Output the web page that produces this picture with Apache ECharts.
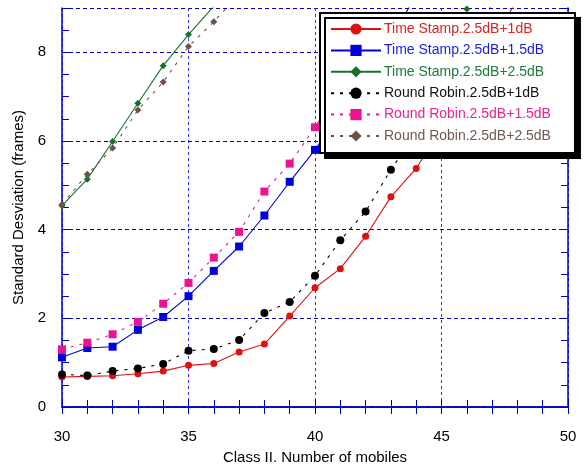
<!DOCTYPE html>
<html>
<head>
<meta charset="utf-8">
<script src="https://cdn.jsdelivr.net/npm/echarts@6/dist/echarts.min.js"></script>
<style>html,body{margin:0;padding:0;background:#fff}#c{width:588px;height:470px}</style>
</head>
<body>
<div id="c"></div>
<script>
const xValues = [30,31,32,33,34,35,36,37,38,39,40,41,42,43,44,45,46,47,48];
const tsOneDb   = [0.675,0.69,0.706,0.75,0.81,0.94,0.98,1.24,1.42,2.05,2.69,3.12,3.85,4.74,5.38,6.3,7.2,8.2,9.2];
const tsOneHalfDb = [1.12,1.33,1.36,1.74,2.03,2.50,3.07,3.62,4.32,5.08,5.80,6.6,7.4,8.3,9.3,null,null,null,null];
const tsTwoHalfDb = [4.54,5.14,5.99,6.85,7.70,8.40,9.04,null,null,null,null,null,null,null,null,null,8.98,null,null];
const rrOneDb   = [0.735,0.71,0.81,0.87,0.97,1.27,1.31,1.51,2.12,2.37,2.96,3.76,4.41,5.35,6.2,7.1,8.0,9.1,null];
const rrOneHalfDb = [1.30,1.45,1.64,1.92,2.33,2.80,3.37,3.95,4.86,5.49,6.31,7.2,8.2,9.2,null,null,null,null,null];
const rrTwoHalfDb = [4.57,5.25,5.84,6.70,7.33,8.13,8.69,9.3,null,null,null,null,null,null,null,null,null,null,null];
const seriesNames = ['Time Stamp.2.5dB+1dB','Time Stamp.2.5dB+1.5dB','Time Stamp.2.5dB+2.5dB','Round Robin.2.5dB+1dB','Round Robin.2.5dB+1.5dB','Round Robin.2.5dB+2.5dB'];
const xTicks = [30,35,40,45,50];
const yTicks = [0,2,4,6,8];

const pairs = arr => xValues.map((x,i)=>[x, arr[i]]);
const axisBlue = '#0000cc';
const FONT = 'Liberation Sans, Arial, sans-serif';

const styles = [
  {c:'#e01010', t:'#e02020', sym:'circle', size:7, dash:'solid'},
  {c:'#0000dd', t:'#1c1ce0', sym:'rect', size:8, dash:'solid'},
  {c:'#18702c', t:'#207a3a', sym:'diamond', size:7, dash:'solid'},
  {c:'#000000', t:'#111111', sym:'circle', size:8, dash:[3,6]},
  {c:'#ee1290', t:'#ee2090', sym:'rect', size:8, dash:[3,6]},
  {c:'#6a5448', t:'#705a50', sym:'diamond', size:7, dash:[3,6]}
];
const dataSets = [tsOneDb, tsOneHalfDb, tsTwoHalfDb, rrOneDb, rrOneHalfDb, rrTwoHalfDb];

const series = dataSets.map((d,i)=>({
  name: seriesNames[i], type:'line', data: pairs(d),
  symbol: styles[i].sym, symbolSize: styles[i].size, showSymbol:true,
  connectNulls:false, clip:true,
  lineStyle:{color:styles[i].c, width:1.1, type:styles[i].dash},
  itemStyle:{color:styles[i].c},
  emphasis:{disabled:true}, animation:false, z: 3
}));

const baseAxisCommon = {
  axisLine:{show:true, lineStyle:{color:axisBlue, width:1.5}},
  axisTick:{show:true, inside:true, length:7, lineStyle:{color:axisBlue, width:1}},
};

const chart = echarts.init(document.getElementById('c'), null, {renderer:'canvas'});
chart.setOption({
  backgroundColor:'#ffffff',
  animation:false,
  textStyle:{fontFamily:FONT},
  grid:{left:62, right:20, top:8, bottom:57, containLabel:false},
  legend:{
    data: seriesNames.map((n,i)=>({name:n, textStyle:{color:styles[i].t}})),
    orient:'vertical', left:320, top:13,
    padding:[9,24,10,10], itemGap:7.4, itemWidth:50, itemHeight:14,
    backgroundColor:'#ffffff', borderColor:'#000000', borderWidth:2,
    shadowColor:'#000000', shadowBlur:0, shadowOffsetX:5, shadowOffsetY:5,
    textStyle:{fontSize:14, fontFamily:FONT, padding:[0,0,0,-2]},
    selectedMode:false
  },
  xAxis:[{
    type:'value', min:30, max:50, interval:5, position:'bottom',
    ...baseAxisCommon,
    minorTick:{show:true, splitNumber:5, length:7, lineStyle:{color:axisBlue, width:1}},
    axisLabel:{color:'#000', fontSize:15, fontFamily:FONT, margin:22,
      formatter: v => xTicks.includes(v) ? String(v) : ''},
    splitLine:{show:true, lineStyle:{color:'#3030ee', type:[3,3], width:1}},
    name:'Class II. Number of mobiles', nameLocation:'middle', nameGap:43,
    nameTextStyle:{color:'#000', fontSize:15, fontFamily:FONT}
  },{
    type:'value', min:30, max:50, interval:5, position:'top',
    ...baseAxisCommon,
    minorTick:{show:true, splitNumber:5, length:7, lineStyle:{color:axisBlue, width:1}},
    axisLabel:{show:false}, splitLine:{show:false}
  }],
  yAxis:[{
    type:'value', min:0, max:9, interval:2, position:'left',
    ...baseAxisCommon,
    minorTick:{show:true, splitNumber:4, length:7, lineStyle:{color:axisBlue, width:1}},
    axisLabel:{color:'#000', fontSize:15, fontFamily:FONT, margin:16,
      formatter: v => yTicks.includes(v) ? String(v) : ''},
    splitLine:{show:true, lineStyle:{color:'#0000bb', type:[4,3], width:1}},
    name:'Standard Desviation (frames)', nameLocation:'middle', nameGap:35,
    nameTextStyle:{color:'#000', fontSize:15, fontFamily:FONT}
  },{
    type:'value', min:0, max:9, interval:2, position:'right',
    ...baseAxisCommon,
    minorTick:{show:true, splitNumber:4, length:7, lineStyle:{color:axisBlue, width:1}},
    axisLabel:{show:false}, splitLine:{show:false}
  }],
  series: series
});
</script>
</body>
</html>
